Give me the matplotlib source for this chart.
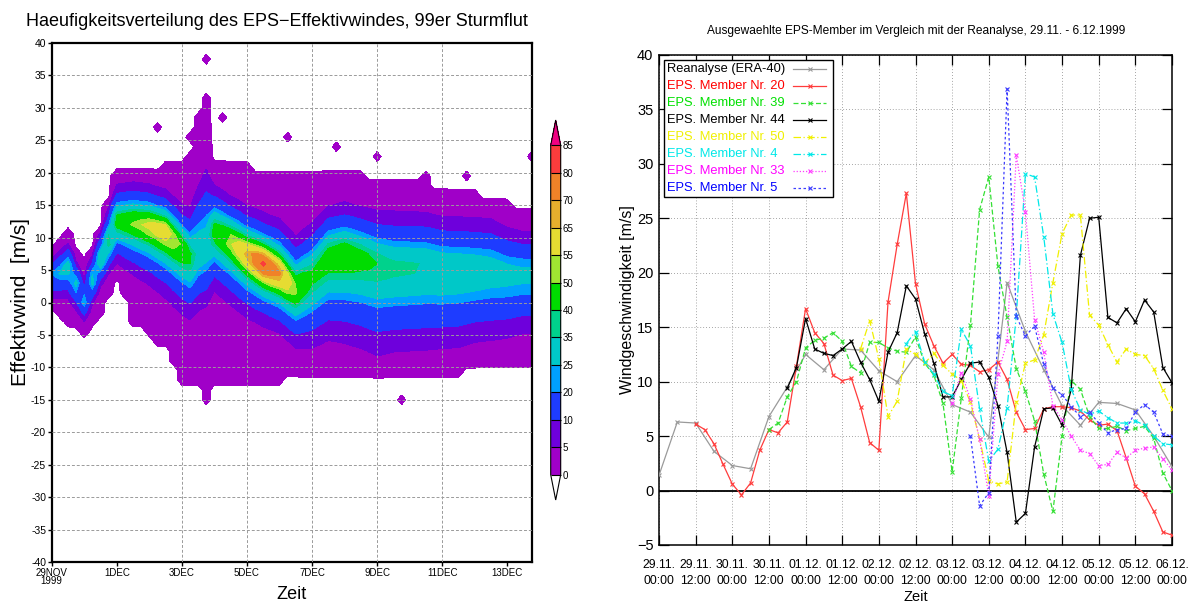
import numpy as np
import matplotlib
matplotlib.use("Agg")
import matplotlib.pyplot as plt
from matplotlib.colors import ListedColormap, BoundaryNorm
from matplotlib.lines import Line2D
from matplotlib.patches import Rectangle

plt.rcParams["font.family"] = ["Liberation Sans", "DejaVu Sans"]

# ---------------- left: frequency distribution of the EPS effective wind ----------------
# x in days from 29 Nov 1999 00 UTC
knot_day = [0.0, 0.5, 1.0, 1.5, 2.0, 2.5, 3.0, 3.5, 4.0, 4.25, 4.5, 4.75, 5.0, 5.5, 6.0, 6.5,
            7.0, 7.5, 8.0, 8.5, 9.0, 9.5, 10.0, 10.5, 11.0, 11.5, 12.0, 12.5, 13.0, 13.5,
            14.0, 14.5, 15.0]
core_ws = [4.0, 5.5, 0.5, 6.5, 12.5, 12.5, 12.0, 11.0, 8.5, 7.0, 8.0, 8.5, 11.0, 9.5, 7.5,
           6.0, 4.5, 2.0, 4.0, 7.0, 7.5, 7.0, 6.0, 5.5, 5.5, 5.5, 5.0, 5.0, 5.0, 5.0, 4.5,
           4.5, 4.5]
core_cnt = [22, 30, 26, 35, 45, 52, 58, 62, 50, 42, 32, 30, 45, 55, 68, 83, 72, 52, 42, 46,
            48, 44, 40, 37, 36, 35, 34, 33, 32, 30, 28, 27, 27]
spread_up = [2.5, 3.0, 2.5, 3.5, 4.0, 4.0, 4.0, 4.0, 4.5, 5.5, 8.0, 10.0, 5.0, 4.5, 4.5, 4.5,
             5.0, 5.5, 6.0, 5.5, 5.5, 5.5, 6.0, 6.5, 6.5, 6.5, 6.5, 6.5, 6.5, 6.5, 6.0, 5.5,
             5.5]
spread_dn = [3.0, 4.0, 3.0, 3.0, 4.5, 5.5, 6.0, 6.5, 7.0, 7.0, 7.5, 7.5, 6.5, 6.5, 6.0, 5.5,
             5.5, 6.0, 8.0, 9.0, 9.5, 10.0, 10.5, 10.0, 10.0, 10.0, 9.5, 9.5, 9.0, 9.0, 8.5,
             8.0, 8.0]
edge_low = [-1.0, -3.0, -5.0, -2.0, 4.0, -3.0, -5.0, -7.0, -12.0, -13.0, -13.0, -14.0, -13.0,
            -12.0, -12.0, -12.0, -12.0, -11.5, -11.0, -11.0, -11.0, -11.5, -11.5, -11.0,
            -11.0, -11.0, -10.5, -10.5, -10.0, -10.0, -9.5, -9.0, -9.0]
edge_high = [8.0, 11.5, 6.0, 11.0, 19.5, 20.0, 20.5, 21.0, 21.5, 23.5, 27.0, 31.5, 22.0, 21.5,
             21.0, 20.5, 20.0, 19.5, 19.5, 20.0, 19.5, 19.5, 19.0, 18.5, 18.0, 18.0, 17.5,
             17.0, 16.5, 16.0, 15.0, 14.5, 14.5]
# isolated single-member values
single_day = [3.36, 4.36, 4.46, 4.74, 5.13, 7.23, 8.72, 10.12, 11.5, 12.77, 14.63, 4.66, 10.78]
single_ws = [26.9, 25.9, 28.9, 36.9, 28.9, 25.0, 23.8, 23.0, 19.9, 19.9, 22.0, -15.3, -15.0]

count_bounds = [0, 5, 10, 20, 25, 35, 40, 50, 55, 65, 70, 80, 85]
count_colors = ["#a000c8", "#6e00dc", "#1e3cff", "#00a0ff", "#00c8c8", "#00d28c",
                "#00dc00", "#a0e632", "#e6dc32", "#e6af2d", "#f08228", "#fa3c3c"]
count_over = "#f00082"

left_ticks = [0, 2, 4, 6, 8, 10, 12, 14]
left_ticklabels = ["29NOV\n1999", "1DEC", "3DEC", "5DEC", "7DEC", "9DEC", "11DEC", "13DEC"]

# ---------------- right: selected members vs. reanalysis ----------------
hours_reanalysis = np.arange(0, 169, 6)
reanalysis = [1.4, 6.3, 6.2, 3.6, 2.3, 2.0, 6.8, 9.5, 12.5, 11.1, 13.0, 12.9, 11.0, 10.0, 12.4,
              11.1, 7.9, 7.2, 4.9, 19.1, 14.6, 11.1, 7.8, 6.0, 8.1, 8.0, 7.4, 5.0, 2.2]

member_start = {"20": 12, "39": 36, "44": 42, "50": 66, "4": 81, "33": 96, "5": 102}
member_20 = [6.1, 5.6, 4.3, 2.4, 0.6, -0.4, 0.7, 3.7, 5.6, 5.3, 6.3, 11.4, 16.7,
             14.5, 13.5, 10.6, 10.1, 10.3, 7.7, 4.4, 3.7, 17.3, 22.6, 27.3, 19.0, 15.3, 13.3,
             11.7, 12.5, 11.6, 11.5, 10.9, 11.1, 11.8, 10.2, 7.2, 5.6, 5.7, 7.5, 7.7, 7.7,
             7.6, 7.3, 6.5, 6.0, 6.1, 5.5, 3.0, 0.4, -0.3, -1.9, -3.8, -4.1]
member_39 = [5.6, 6.2, 8.6, 10.0, 13.1, 13.8, 14.0, 14.5, 13.7, 11.4, 10.8, 13.6, 13.6, 13.1,
             12.8, 12.7, 14.1, 11.7, 10.6, 8.0, 1.7, 8.5, 15.2, 25.8, 28.8, 20.6, 15.9, 11.2,
             9.1, 6.4, 1.5, -1.9, 5.0, 10.1, 9.3, 6.8, 5.7, 5.7, 5.9, 5.5, 5.7, 5.9, 4.8, 1.6,
             0.0]
member_44 = [9.4, 11.3, 15.8, 13.0, 12.6, 12.4, 13.0, 13.7, 11.8, 10.2, 8.2, 12.7, 14.5, 18.8,
             17.6, 14.4, 11.7, 8.6, 8.6, 10.2, 11.7, 11.8, 10.4, 7.8, 3.5, -2.9, -2.1, 4.0, 7.5,
             7.6, 6.0, 9.3, 21.6, 25.0, 25.1, 15.9, 15.4, 16.7, 15.5, 17.5, 16.4, 11.3, 9.9]
member_50 = [13.0, 15.6, 12.1, 6.8, 8.2, 13.0, 12.5, 11.7, 12.6, 11.5, 10.7, 10.1, 8.1, 4.7,
             0.9, 0.6, 0.8, 8.1, 11.7, 12.0, 14.3, 19.1, 23.6, 25.3, 25.3, 16.1, 15.2, 13.4,
             11.8, 13.0, 12.5, 12.4, 11.2, 9.2, 7.5]
member_4 = [13.5, 14.6, 11.8, 10.7, 9.1, 8.7, 14.8, 13.3, 7.5, 2.7, 3.8, 7.6, 16.0, 29.1, 28.8,
            23.3, 16.2, 13.6, 9.3, 7.4, 7.0, 7.3, 6.7, 6.2, 6.2, 6.4, 6.0, 5.0, 4.3, 4.2]
member_33 = [8.0, 10.8, 8.4, 4.7, -0.5, 10.7, 13.7, 30.8, 25.6, 15.7, 12.7, 7.8, 6.5, 5.0, 3.7,
             3.4, 2.3, 2.4, 3.5, 3.0, 3.7, 3.9, 4.0, 2.9, 1.9]
member_5 = [5.0, -1.4, -0.2, 14.2, 36.9, 16.0, 14.2, 15.1, 11.6, 9.4, 8.8, 7.7, 6.8, 7.2, 6.2,
            5.3, 5.6, 5.7, 7.2, 7.9, 7.2, 5.2, 5.0]

right_ticks = np.arange(0, 169, 12)
right_ticklabels = ["29.11.\n00:00", "29.11.\n12:00", "30.11.\n00:00", "30.11.\n12:00",
                    "01.12.\n00:00", "01.12.\n12:00", "02.12.\n00:00", "02.12.\n12:00",
                    "03.12.\n00:00", "03.12.\n12:00", "04.12.\n00:00", "04.12.\n12:00",
                    "05.12.\n00:00", "05.12.\n12:00", "06.12.\n00:00"]

W_PX, H_PX = 1195, 610
fig = plt.figure(figsize=(W_PX / 100, H_PX / 100), dpi=100)


def px_axes(left, top, right, bottom):
    return fig.add_axes([left / W_PX, 1 - bottom / H_PX, (right - left) / W_PX,
                         (bottom - top) / H_PX])


def fx(px):
    return px / W_PX


def fy(py):
    return 1 - py / H_PX


# ---- left panel ----
ax = px_axes(51.7, 43, 531.7, 562)
t = np.arange(0.0, 14.76, 0.25)
ws = np.arange(-40.5, 40.6, 1.5)
T, WS = np.meshgrid(t, ws)
mode = np.interp(t, knot_day, core_ws)
peak = np.interp(t, knot_day, core_cnt)
s_up = np.interp(t, knot_day, spread_up)
s_dn = np.interp(t, knot_day, spread_dn)
lo = np.interp(t, knot_day, edge_low)
hi = np.interp(t, knot_day, edge_high)
scale = np.where(WS >= mode, s_up, s_dn)
Z = peak / (1.0 + ((WS - mode) / scale) ** 2) ** 2
inside = (WS >= lo) & (WS <= hi)
Z = np.where(inside, np.maximum(Z, 1.0), -1.0)
for d, v in zip(single_day, single_ws):
    i = np.argmin(np.abs(ws - v))
    j = np.argmin(np.abs(t - d))
    Z[i, j] = max(Z[i, j], 1.0)

cmap = ListedColormap(count_colors)
cmap.set_over(count_over)
cmap.set_under("white")
norm = BoundaryNorm(count_bounds, cmap.N)
cf = ax.contourf(T, WS, Z, levels=count_bounds, cmap=cmap, norm=norm, extend="both")

for yv in range(-35, 40, 5):
    ax.axhline(yv, color="#9a9a9a", lw=0.7, ls=(0, (3, 2)), zorder=3)
for xv in [4, 6, 8, 10, 12]:
    ax.axvline(xv, color="#9a9a9a", lw=0.7, ls=(0, (3, 2)), zorder=3)

ax.set_xlim(0, 14.75)
ax.set_ylim(-40, 40)
ax.set_yticks(range(-40, 41, 5))
ax.set_yticklabels([str(v) for v in range(-40, 41, 5)], fontsize=7.5)
ax.set_xticks(left_ticks)
ax.set_xticklabels(left_ticklabels, linespacing=0.85, fontsize=7)
ax.tick_params(axis="both", length=3, width=1, direction="out", pad=1)
for sp in ax.spines.values():
    sp.set_linewidth(1.6)
ax.set_ylabel("Effektivwind  [m/s]", fontsize=15)
ax.yaxis.set_label_coords(-0.045, 0.5)
ax.set_xlabel("Zeit", fontsize=13, labelpad=0)
fig.text(fx(277), fy(22), "Haeufigkeitsverteilung des EPS\u2212Effektivwindes, 99er Sturmflut",
         fontsize=13, ha="center", va="center")

cax = px_axes(550.7, 120, 560.7, 500)
cb = fig.colorbar(cf, cax=cax, ticks=count_bounds, drawedges=True, extendfrac=0.077)
cb.outline.set_linewidth(0.8)
cb.dividers.set_linewidth(0.8)
cax.tick_params(length=0, labelsize=7, pad=1.5)

# ---- right panel ----
ax2 = px_axes(659, 55, 1172, 545)
ax2.set_xlim(0, 168)
ax2.set_ylim(-5, 40)
ax2.set_xticks(right_ticks)
ax2.set_xticklabels(right_ticklabels, fontsize=8.8, linespacing=1.5)
ax2.set_yticks(range(-5, 41, 5))
ax2.tick_params(axis="y", labelsize=10.5)
ax2.tick_params(direction="in", length=7, width=0.9, top=True, right=True)
ax2.tick_params(axis="x", pad=10)
ax2.tick_params(axis="y", pad=4)
ax2.grid(True, color="#888888", lw=0.6, ls=(0, (1, 2.5)))
ax2.axhline(0, color="black", lw=1.3, zorder=2)
for sp in ax2.spines.values():
    sp.set_linewidth(1.1)

series = [("Reanalyse (ERA-40)", hours_reanalysis, reanalysis, "#9a9a9a", "-", "black")]
members = [("20", member_20, "#ff3c3c", "-", "#ff0000"),
           ("39", member_39, "#34e034", (0, (4, 2)), "#00e000"),
           ("44", member_44, "#000000", "-", "#000000"),
           ("50", member_50, "#f0f000", (0, (6, 2, 1, 2)), "#f0f000"),
           ("4", member_4, "#00e8e8", (0, (6, 2, 1, 2)), "#00e8e8"),
           ("33", member_33, "#ff3cff", (0, (1, 1.5)), "#ff00ff"),
           ("5", member_5, "#3c3cff", (0, (2, 2)), "#0000ff")]
for num, vals, col, ls, tcol in members:
    hrs = member_start[num] + 3 * np.arange(len(vals))
    series.append(("EPS. Member Nr. " + num, hrs, vals, col, ls, tcol))

for label, hrs, vals, col, ls, tcol in series:
    ax2.plot(hrs, vals, color=col, ls=ls, lw=0.9, marker="x", ms=3, mew=0.8, zorder=4)

# key box in the upper left corner: label text first, line sample on the right
box_l, box_t, box_r, box_b = 664, 60, 833, 197
fig.patches.append(Rectangle((fx(box_l), fy(box_b)), fx(box_r) - fx(box_l),
                             fy(box_t) - fy(box_b), transform=fig.transFigure,
                             facecolor="white", edgecolor="black", lw=1.0, zorder=6))
row_h = (box_b - box_t) / len(series)
for k, (label, hrs, vals, col, ls, tcol) in enumerate(series):
    yc = box_t + row_h * (k + 0.5)
    fig.text(fx(667), fy(yc), label, color=tcol, fontsize=9.3, ha="left", va="center",
             zorder=7)
    fig.lines.append(Line2D([fx(793), fx(826)], [fy(yc), fy(yc)], transform=fig.transFigure,
                            color=col, ls=ls, lw=0.9, zorder=7))
    fig.lines.append(Line2D([fx(809.5)], [fy(yc)], transform=fig.transFigure, color=col,
                            marker="x", ms=3, mew=0.8, ls="none", zorder=7))

ax2.set_ylabel("Windgeschwindigkeit [m/s]", fontsize=11.5, labelpad=1)
ax2.set_xlabel("Zeit", fontsize=10.5, labelpad=2)
fig.text(fx(916), fy(31), "Ausgewaehlte EPS-Member im Vergleich mit der Reanalyse, 29.11. - 6.12.1999",
         fontsize=8.6, ha="center", va="center")

fig.savefig("out.png", dpi=100)
